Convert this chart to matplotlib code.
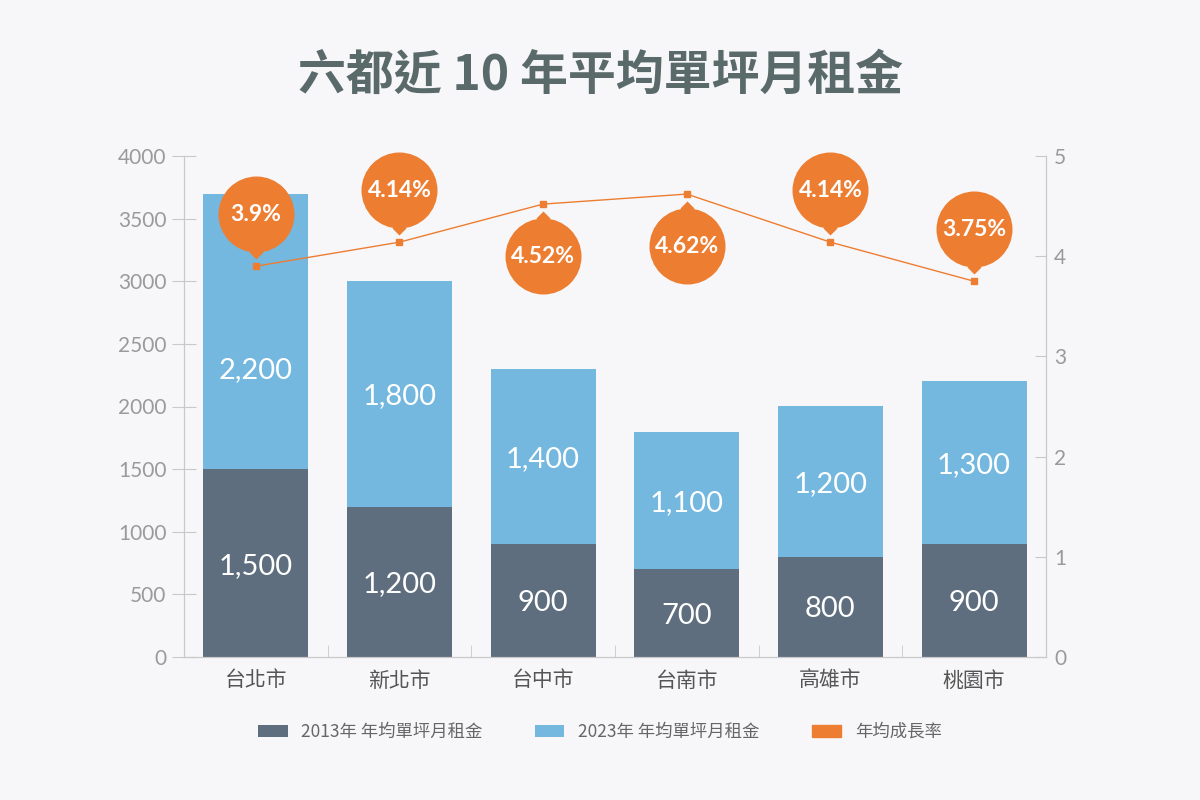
'''六都近 10 年平均單坪月租金: stacked bars of rent with a growth-rate line on a twin axis'''

import matplotlib
matplotlib.use('Agg')
import matplotlib.pyplot as plt
from matplotlib.transforms import offset_copy
from matplotlib.patches import Patch

cities = ['台北市', '新北市', '台中市', '台南市', '高雄市', '桃園市']
rent_2013 = [1500, 1200, 900, 700, 800, 900]
rent_gain = [2200, 1800, 1400, 1100, 1200, 1300]   # 2023 minus 2013
growth = [3.9, 4.14, 4.52, 4.62, 4.14, 3.75]
bubble_side = [1, 1, -1, -1, 1, 1]                 # 1 = bubble above the point

DARK = '#5e6e7e'
LIGHT = '#74b8df'
ORANGE = '#ed7d31'
BG = '#f7f7f9'
SPINE = '#c9c9c9'
LATIN = ['Lato', 'DejaVu Sans']

plt.rcParams['font.family'] = ['Noto Sans CJK TC', 'DejaVu Sans']

fig = plt.figure(figsize=(12, 8), dpi=100, facecolor=BG)
ax = fig.add_axes([0.1533, 0.17875, 0.7183, 0.62625])
ax.set_facecolor(BG)
ax2 = ax.twinx()

x = range(len(cities))
ax.bar(x, rent_2013, width=0.73, color=DARK, label='2013年 年均單坪月租金')
ax.bar(x, rent_gain, width=0.73, bottom=rent_2013, color=LIGHT,
       label='2023年 年均單坪月租金')

# value labels, the upper one centred in the part not hidden by the line
for i in x:
    ax.text(i, rent_2013[i] / 2, f'{rent_2013[i]:,}', ha='center',
            va='center_baseline', color='white', fontsize=21, family=LATIN)
    top = min(rent_2013[i] + rent_gain[i], growth[i] * 800)
    ax.text(i, (rent_2013[i] + top) / 2, f'{rent_gain[i]:,}', ha='center',
            va='center_baseline', color='white', fontsize=21, family=LATIN)

ax.set_xlim(-0.5, len(cities) - 0.5)
ax.set_ylim(0, 4000)
ax.set_yticks(range(0, 4001, 500))
ax.set_xticks(list(x))
ax.set_xticklabels(cities, fontsize=15, color='#555555')
ax.set_xticks([i - 0.5 for i in range(len(cities) + 1)], minor=True)
ax.tick_params(axis='x', which='major', length=0, pad=9)
ax.tick_params(axis='x', which='minor', direction='in', length=9, color=SPINE)
ax.tick_params(axis='y', direction='inout', length=17, color=SPINE,
               labelcolor='#9a9a9a', labelsize=15, pad=4)
for lab in ax.get_yticklabels():
    lab.set_family(LATIN)

# growth line on the right axis
ax2.plot(x, growth, color=ORANGE, lw=1, marker='s', ms=4.5, zorder=3,
         label='年均成長率')
ax2.set_ylim(0, 5)
ax2.set_yticks(range(0, 6))
ax2.tick_params(axis='y', direction='in', length=8, color=SPINE,
                labelcolor='#9a9a9a', labelsize=15, pad=6)
for lab in ax2.get_yticklabels():
    lab.set_family(LATIN)

for a in (ax, ax2):
    a.spines['top'].set_visible(False)
    for s in ('left', 'right', 'bottom'):
        a.spines[s].set_color(SPINE)

# balloon labels
for i in x:
    s = bubble_side[i]
    tr_circle = offset_copy(ax2.transData, fig=fig, y=s * 52, units='dots')
    tr_tip = offset_copy(ax2.transData, fig=fig, y=s * 14, units='dots')
    ax2.plot(i, growth[i], marker='o', ms=76 * 0.72, color=ORANGE, mew=0,
             transform=tr_circle, zorder=4, clip_on=False)
    tip = [(0, -s), (-1, 0), (0, s), (1, 0)]
    ax2.plot(i, growth[i], marker=tip, ms=14 * 0.72, color=ORANGE, mew=0,
             transform=tr_tip, zorder=4, clip_on=False)
    ax2.annotate(f'{growth[i]}%', (i, growth[i]), xytext=(0, s * 52 * 0.72),
                 textcoords='offset points', ha='center', va='center',
                 color='white', fontsize=16.5, fontweight='bold',
                 family=LATIN, zorder=5)

fig.text(0.5, 0.906, '六都近 10 年平均單坪月租金', ha='center', va='center',
         fontsize=34.5, fontweight='bold', color='#5a6a6a')

h1, l1 = ax.get_legend_handles_labels()
h2 = [Patch(color=ORANGE)]
leg = fig.legend(h1 + h2, l1 + ['年均成長率'], loc='center',
                 bbox_to_anchor=(0.5, 0.085), ncol=3, frameon=False,
                 fontsize=12.5, handlelength=1.7, handleheight=0.7,
                 columnspacing=3.0, handletextpad=0.8)
for t in leg.get_texts():
    t.set_color('#666666')

fig.savefig('out.png', dpi=100, facecolor=BG)
